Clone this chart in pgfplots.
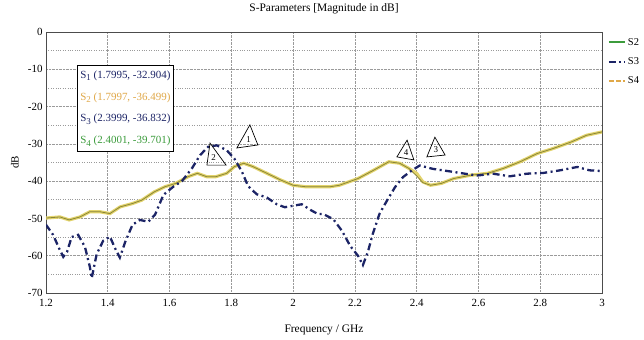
\documentclass[border=0pt]{standalone}
\usepackage{pgfplots}
\pgfplotsset{compat=1.18}
\usepackage{fontspec}
\setmainfont{Liberation Serif}
\definecolor{navyS}{HTML}{1C2466}
\definecolor{yelS}{HTML}{E2D36C}
\definecolor{oliveS}{HTML}{8A8638}
\definecolor{grnS}{HTML}{3C9C3C}
\definecolor{orgS}{HTML}{E0A848}
\definecolor{gridc}{HTML}{9A9A9A}
\newcommand{\Sn}[1]{S\raisebox{-0.45ex}{\fontsize{9}{10}\selectfont #1}}
\begin{document}
\begin{tikzpicture}
\begin{axis}[
  at={(0,0)}, anchor=south west,
  scale only axis, width=556bp, height=261bp,
  xmin=1.2, xmax=3, ymin=-70, ymax=0,
  xtick={1.2,1.4,1.6,1.8,2,2.2,2.4,2.6,2.8,3},
  ytick={-70,-60,-50,-40,-30,-20,-10,0},
  minor y tick num=1,
  major tick length=0pt, minor tick length=0pt,
  grid=both,
  major grid style={gridc, densely dotted, line width=0.6pt},
  minor grid style={gridc, dotted, line width=0.6pt},
  axis line style={black!70, line width=0.6pt},
  /pgf/number format/assume math mode=true,
  tick label style={font=\fontsize{11}{12}\selectfont},
  xticklabel style={yshift=-3bp},
  title={S-Parameters [Magnitude in dB]},
  title style={at={(axis description cs:0.5,1.065)}, anchor=center, font=\fontsize{11.5}{13}\selectfont},
  xlabel={Frequency / GHz},
  xlabel style={at={(axis description cs:0.5,-0.142)}, anchor=center, font=\fontsize{11.5}{13}\selectfont},
  ylabel={dB},
  ylabel style={at={(axis description cs:-0.056,0.5)}, anchor=center, font=\fontsize{11}{12}\selectfont},
  legend style={at={(axis description cs:1.010,0.985)}, anchor=north west, draw=none, fill=none,
    font=\fontsize{10.5}{12}\selectfont, row sep=7bp, inner sep=0pt},
  legend cell align=left,
  clip=true,
]
\addlegendimage{legend image code/.code={\draw[grnS, line width=2.2pt] (0bp,0bp) -- (16bp,0bp);}}
\addlegendentry{S2}
\addlegendimage{legend image code/.code={\draw[navyS, line width=2.2pt, dash pattern=on 7bp off 3bp on 2bp off 3bp] (0bp,0bp) -- (16bp,0bp);}}
\addlegendentry{S3}
\addlegendimage{legend image code/.code={\draw[orgS, line width=2.2pt, dash pattern=on 5bp off 2bp] (0bp,0bp) -- (16bp,0bp);}}
\addlegendentry{S4}

% S4 (thick yellow)
\addplot[yelS, line width=3.2pt, forget plot] coordinates {
(1.2,-49.9) (1.245,-49.6) (1.275,-50.4) (1.31,-49.6) (1.342,-48.2) (1.374,-48.2)
(1.407,-48.7) (1.44,-46.9) (1.48,-46) (1.51,-45.1) (1.55,-42.9) (1.585,-41.5)
(1.62,-40.6) (1.66,-38.8) (1.69,-37.9) (1.72,-38.8) (1.75,-38.8) (1.785,-37.9)
(1.81,-36.1) (1.84,-35.2) (1.87,-36.1) (1.915,-37.9) (1.96,-39.7) (2.0,-41.1)
(2.04,-41.5) (2.08,-41.5) (2.12,-41.5) (2.15,-41.1) (2.21,-39.3) (2.26,-37.1)
(2.31,-34.8) (2.345,-35.2) (2.375,-36.6) (2.4,-37.9) (2.42,-40.2) (2.445,-41.1)
(2.48,-40.6) (2.52,-39.3) (2.575,-38.4) (2.63,-37.9) (2.68,-36.6) (2.735,-34.8)
(2.79,-32.6) (2.84,-31.3) (2.9,-29.5) (2.95,-27.7) (3.0,-26.8)
};
% S2 (olive core)
\addplot[oliveS, line width=0.8pt, forget plot] coordinates {
(1.2,-49.9) (1.245,-49.6) (1.275,-50.4) (1.31,-49.6) (1.342,-48.2) (1.374,-48.2)
(1.407,-48.7) (1.44,-46.9) (1.48,-46) (1.51,-45.1) (1.55,-42.9) (1.585,-41.5)
(1.62,-40.6) (1.66,-38.8) (1.69,-37.9) (1.72,-38.8) (1.75,-38.8) (1.785,-37.9)
(1.81,-36.1) (1.84,-35.2) (1.87,-36.1) (1.915,-37.9) (1.96,-39.7) (2.0,-41.1)
(2.04,-41.5) (2.08,-41.5) (2.12,-41.5) (2.15,-41.1) (2.21,-39.3) (2.26,-37.1)
(2.31,-34.8) (2.345,-35.2) (2.375,-36.6) (2.4,-38.6) (2.42,-40.4) (2.445,-41.1)
(2.48,-40.6) (2.52,-39.3) (2.575,-38.4) (2.63,-37.9) (2.68,-36.6) (2.735,-34.8)
(2.79,-32.6) (2.84,-31.3) (2.9,-29.5) (2.95,-27.7) (3.0,-26.8)
};
% S3 (navy dash-dot)
\addplot[navyS, line width=2.3pt, dash pattern=on 7bp off 3.5bp on 2bp off 3.5bp, forget plot] coordinates {
(1.2,-51.7) (1.223,-54.4) (1.245,-58.5) (1.256,-60.3) (1.268,-59) (1.283,-55)
(1.304,-54.4) (1.326,-57.6) (1.342,-63) (1.348,-66) (1.364,-59.6) (1.385,-56)
(1.407,-54.9) (1.423,-57.9) (1.439,-60.5) (1.456,-56.4) (1.48,-51.7) (1.504,-50.4)
(1.531,-50.9) (1.553,-49) (1.58,-43.7) (1.612,-41.5) (1.64,-40) (1.673,-36.5)
(1.699,-33) (1.725,-30.8) (1.753,-30.4) (1.785,-31.7) (1.81,-34) (1.834,-37.4)
(1.854,-41.3) (1.882,-43.5) (1.915,-44.4) (1.947,-46.2) (1.973,-47) (2.0,-46.6)
(2.028,-46.2) (2.06,-47.9) (2.08,-48.8) (2.097,-48.8) (2.13,-50.2) (2.158,-53.3)
(2.185,-57.4) (2.21,-60) (2.226,-62.5) (2.242,-59) (2.258,-54.1) (2.28,-48.7)
(2.304,-45.2) (2.33,-41.6) (2.356,-38.9) (2.385,-37.1) (2.41,-35.8) (2.452,-36.7)
(2.517,-37.5) (2.595,-38.5) (2.647,-38) (2.702,-38.7) (2.757,-38) (2.81,-37.8)
(2.864,-37.1) (2.92,-36.2) (2.96,-37.1) (3.0,-37.3)
};

% marker triangles
\draw[black, line width=0.7pt] (axis cs:1.860,-24.9) -- (axis cs:1.818,-31.1) -- (axis cs:1.886,-30.3) -- cycle;
\node[font=\fontsize{9}{10}\selectfont, inner sep=0pt] at (axis cs:1.856,-28.9) {1};
\draw[black, line width=0.7pt] (axis cs:1.731,-29.8) -- (axis cs:1.721,-35.7) -- (axis cs:1.783,-35.7) -- cycle;
\node[font=\fontsize{9}{10}\selectfont, inner sep=0pt] at (axis cs:1.743,-33.6) {2};
\draw[black, line width=0.7pt] (axis cs:2.369,-29) -- (axis cs:2.336,-33.5) -- (axis cs:2.391,-34.3) -- cycle;
\node[font=\fontsize{9}{10}\selectfont, inner sep=0pt] at (axis cs:2.366,-32.4) {4};
\draw[black, line width=0.7pt] (axis cs:2.459,-28.2) -- (axis cs:2.433,-33.5) -- (axis cs:2.492,-33) -- cycle;
\node[font=\fontsize{9}{10}\selectfont, inner sep=0pt] at (axis cs:2.462,-31.6) {3};

% marker info box
\node[draw=black, line width=1pt, fill=white, anchor=north west, inner xsep=3bp, inner ysep=5bp,
  align=left, font=\fontsize{11}{22}\selectfont]
  at (axis cs:1.30,-8.85) {%
  \textcolor{navyS}{\Sn{1} (1.7995, -32.904)}\\
  \textcolor{orgS}{\Sn{2} (1.7997, -36.499)}\\
  \textcolor{navyS}{\Sn{3} (2.3999, -36.832)}\\
  \textcolor{grnS}{\Sn{4} (2.4001, -39.701)}};
\end{axis}
\pgfresetboundingbox
\path[use as bounding box] (-46bp,-47bp) rectangle (598bp,293bp);
\end{tikzpicture}
\end{document}
